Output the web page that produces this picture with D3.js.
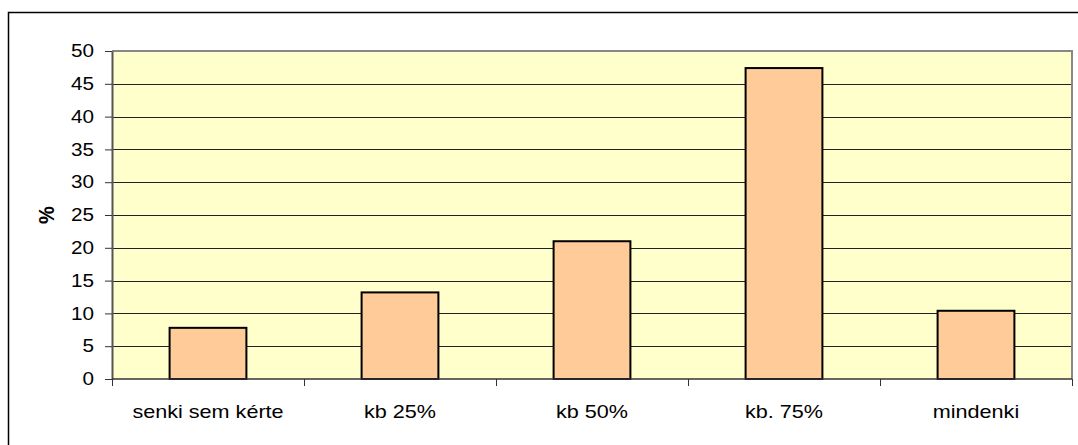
<!DOCTYPE html>
<html>
<head>
<meta charset="utf-8">
<script src="https://cdn.jsdelivr.net/npm/d3@7"></script>
<style>
  html, body { margin: 0; padding: 0; background: #fff; }
  svg { display: block; }
  text { font-family: "Liberation Sans", Arial, sans-serif; fill: #000; }
</style>
</head>
<body>
<svg id="chart" width="1078" height="445"></svg>
<script>
// Survey answers (percent of respondents)
const categories = ["senki sem kérte", "kb 25%", "kb 50%", "kb. 75%", "mindenki"];
const values = [7.8, 13.2, 21.0, 47.4, 10.4];
const yTicks = [0, 5, 10, 15, 20, 25, 30, 35, 40, 45, 50];
const yLabel = "%";

const svg = d3.select("#chart");
const W = 1078, H = 445;
const plot = { left: 112, right: 1072, top: 51, bottom: 379 };
const fontSize = 18;
const stretchTick = 1.15;  // wide lettering of the original layout
const stretchLabel = 1.2;

// outer frame
svg.append("rect")
  .attr("x", 8.5).attr("y", 12.5)
  .attr("width", W + 20).attr("height", H + 20)
  .attr("fill", "#fff").attr("stroke", "#000").attr("stroke-width", 1.5);

const x = d3.scaleBand()
  .domain(categories)
  .range([plot.left, plot.right])
  .paddingInner(0.6)
  .paddingOuter(0.3);

const xEdges = d3.scaleLinear().domain([0, categories.length]).range([plot.left, plot.right]);

const y = d3.scaleLinear().domain([0, 50]).range([plot.bottom, plot.top]);

// plot background
svg.append("rect")
  .attr("x", plot.left).attr("y", plot.top)
  .attr("width", plot.right - plot.left).attr("height", plot.bottom - plot.top)
  .attr("fill", "#FFFFCC");

// horizontal gridlines
svg.append("g")
  .selectAll("line")
  .data(yTicks.filter(t => t > 0 && t < 50))
  .join("line")
  .attr("x1", plot.left).attr("x2", plot.right)
  .attr("y1", d => Math.round(y(d)) + 0.5).attr("y2", d => Math.round(y(d)) + 0.5)
  .attr("stroke", "#222").attr("stroke-width", 1);

// plot border (top and right)
svg.append("path")
  .attr("d", `M${plot.left},${plot.top}H${plot.right}V${plot.bottom}`)
  .attr("fill", "none").attr("stroke", "#888").attr("stroke-width", 2);

// bars
svg.append("g")
  .selectAll("rect")
  .data(values)
  .join("rect")
  .attr("x", (d, i) => x(categories[i]))
  .attr("y", d => y(d))
  .attr("width", x.bandwidth())
  .attr("height", d => y(0) - y(d))
  .attr("fill", "#FFCC99")
  .attr("stroke", "#000")
  .attr("stroke-width", 2);

// y axis
const yAxis = svg.append("g")
  .attr("transform", `translate(${plot.left},0)`)
  .call(d3.axisLeft(y).tickValues(yTicks).tickSize(7).tickPadding(11).tickSizeOuter(0));
yAxis.select(".domain").attr("stroke", "#555").attr("stroke-width", 2);
yAxis.selectAll(".tick line").attr("stroke", "#333");
yAxis.selectAll(".tick text")
  .attr("font-size", fontSize)
  .attr("font-family", "Liberation Sans, Arial, sans-serif")
  .attr("fill", "#000")
  .attr("transform", function () {
    const tx = +d3.select(this).attr("x");
    return `translate(${tx},0) scale(${stretchTick},1) translate(${-tx},0)`;
  });

// x axis baseline and category separators
svg.append("line")
  .attr("x1", plot.left).attr("x2", plot.right)
  .attr("y1", plot.bottom).attr("y2", plot.bottom)
  .attr("stroke", "#333").attr("stroke-width", 1.5);
svg.append("g")
  .selectAll("line")
  .data(d3.range(categories.length + 1))
  .join("line")
  .attr("x1", d => Math.round(xEdges(d)) + 0.5).attr("x2", d => Math.round(xEdges(d)) + 0.5)
  .attr("y1", plot.bottom).attr("y2", plot.bottom + 7)
  .attr("stroke", "#333");

// category labels
svg.append("g")
  .selectAll("text")
  .data(categories)
  .join("text")
  .attr("text-anchor", "middle")
  .attr("font-size", fontSize)
  .attr("transform", d => {
    const cx = x(d) + x.bandwidth() / 2;
    return `translate(${cx},418) scale(${stretchLabel},1)`;
  })
  .text(d => d);

// y axis title
svg.append("text")
  .attr("transform", `translate(54,${(plot.top + plot.bottom) / 2}) rotate(-90) scale(1,1.12)`)
  .attr("text-anchor", "middle")
  .attr("font-size", 20)
  .attr("font-weight", "bold")
  .text(yLabel);
</script>
</body>
</html>
